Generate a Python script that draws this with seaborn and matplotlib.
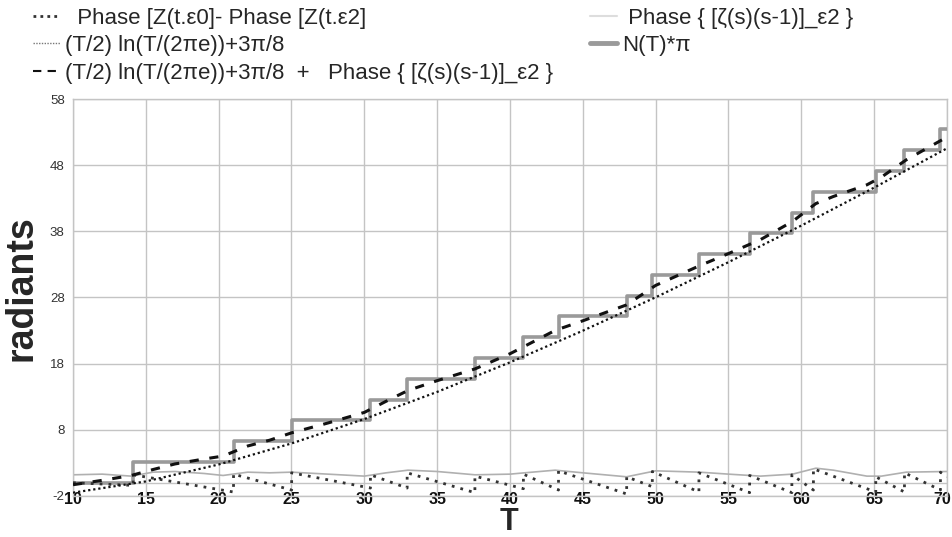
"""
Fase di Z(t) e conteggio degli zeri N(T)*pi - ricostruzione del grafico
"""

import matplotlib
matplotlib.use("Agg")
import matplotlib.pyplot as plt
import matplotlib.transforms as mtransforms
from matplotlib.lines import Line2D
import pandas as pd
import seaborn as sns

# ------------------------------------------------------------------
# Dati
# ------------------------------------------------------------------
# N(T)*pi : scalini agli zeri di zeta
step_t = [10, 14.13, 21.02, 25.01, 30.42, 32.94, 37.59, 40.92, 43.33, 48.01,
          49.77, 52.97, 56.45, 59.35, 60.83, 65.11, 67.08, 69.55, 70]
step_val = [0, 3.14, 6.28, 9.42, 12.57, 15.71, 18.85, 21.99, 25.13, 28.27,
            31.42, 34.56, 37.70, 40.84, 43.98, 47.12, 50.27, 53.41, 53.41]

# (T/2) ln(T/(2 pi e)) + 3pi/8
smooth_t = [10, 15, 20, 25, 30, 35, 40, 45, 50, 55, 60, 65, 70]
smooth_val = [-1.50, 0.20, 2.76, 5.94, 9.63, 13.73, 18.20, 22.98, 28.03,
              33.34, 38.87, 44.61, 50.55]

# Phase { [zeta(s)(s-1)]_e2 }
phase_t = [10, 12, 14, 15.5, 17, 19, 20.3, 22, 23.5, 25, 27.5, 30, 31.5, 33,
           35, 37.6, 40, 41, 43.1, 45, 48, 50, 53, 55, 57.2, 59.4, 61, 62.2,
           64.5, 65.5, 67.2, 70]
phase_val = [1.2, 1.3, 1.0, 1.6, 1.7, 1.4, 1.1, 1.6, 1.5, 1.6, 1.3, 1.0, 1.5,
             1.9, 1.7, 1.2, 1.3, 1.5, 1.9, 1.5, 0.9, 1.8, 1.6, 1.3, 1.0, 1.3,
             2.2, 1.9, 1.0, 1.0, 1.6, 1.7]

# somma: curva liscia + fase
sum_val = [-0.3, 0.36, 1.1, 2.0, 2.84, 3.59, 4.03, 5.56, 6.43, 7.54, 9.03,
           10.63, 12.32, 13.95, 15.43, 17.21, 19.5, 20.63, 23.03, 24.48, 26.88,
           29.83, 32.79, 34.64, 36.75, 39.5, 42.2, 43.27, 45.03, 46.2, 48.8,
           52.25]

# Phase [Z(t.e0)] - Phase [Z(t.e2)] : dente di sega
saw_t = [10, 14.13, 14.13, 21.02, 21.02, 25.01, 25.01, 30.42, 30.42, 32.94,
         32.94, 37.59, 37.59, 40.92, 40.92, 43.33, 43.33, 48.01, 48.01, 49.77,
         49.77, 52.97, 52.97, 56.45, 56.45, 59.35, 59.35, 60.83, 60.83, 65.11,
         65.11, 67.08, 67.08, 69.55, 69.55, 70]
saw_val = [0.0, -0.4, 1.2, -1.4, 1.3, -1.1, 1.5, -0.8, 1.2, -0.8,
           1.5, -1.5, 1.0, -0.9, 1.3, -1.1, 1.8, -1.7, 0.9, -0.6,
           1.7, -1.4, 1.5, -1.5, 1.1, -1.5, 1.2, -1.1, 2.1, -1.4,
           0.9, -1.4, 1.5, -1.1, 1.6, 0.9]

x_ticks = [10, 15, 20, 25, 30, 35, 40, 45, 50, 55, 60, 65, 70]
y_ticks = [-2, 8, 18, 28, 38, 48, 58]

labels = {
    "saw": "  Phase [Z(t.\u03b50]- Phase [Z(t.\u03b52]",
    "smooth": "(T/2) ln(T/(2\u03c0e))+3\u03c0/8",
    "sum": "(T/2) ln(T/(2\u03c0e))+3\u03c0/8  +   Phase { [\u03b6(s)(s-1)]_\u03b52 }",
    "phase": " Phase { [\u03b6(s)(s-1)]_\u03b52 }",
    "step": "N(T)*\u03c0",
}

# ------------------------------------------------------------------
# Stile
# ------------------------------------------------------------------
sns.set_style("white")
plt.rcParams["font.family"] = ["Liberation Sans", "DejaVu Sans"]

GRID = "#c4c4c4"
STEP_C = "#9a9a9a"
PHASE_C = "#b0b0b0"

fig = plt.figure(figsize=(9.53, 5.37), dpi=100)
ax = fig.add_axes([0.0766, 0.0764, 0.9171, 0.7392])

df_step = pd.DataFrame({"T": step_t, "v": step_val})
df_smooth = pd.DataFrame({"T": smooth_t, "v": smooth_val})
df_phase = pd.DataFrame({"T": phase_t, "v": phase_val})
df_sum = pd.DataFrame({"T": phase_t, "v": sum_val})
df_saw = pd.DataFrame({"T": saw_t, "v": saw_val})

# linea dell'asse x a quota 0
ax.axhline(0, color=GRID, lw=1.0, zorder=1)

sns.lineplot(data=df_step, x="T", y="v", ax=ax, color=STEP_C, lw=2.6,
             drawstyle="steps-post", estimator=None, sort=False, zorder=3)
sns.lineplot(data=df_phase, x="T", y="v", ax=ax, color=PHASE_C, lw=1.2,
             estimator=None, sort=False, zorder=2)
sns.lineplot(data=df_saw, x="T", y="v", ax=ax, color="#333333", lw=2.0,
             linestyle=(0, (1, 2.2)), estimator=None, sort=False, zorder=4)
sns.lineplot(data=df_smooth, x="T", y="v", ax=ax, color="#111111", lw=1.6,
             linestyle=(0, (1, 1.3)), estimator=None, sort=False, zorder=5)
sns.lineplot(data=df_sum, x="T", y="v", ax=ax, color="#111111", lw=2.2,
             linestyle=(0, (3, 3.5)), estimator=None, sort=False, zorder=6)

ax.set_xlim(10, 70)
ax.set_ylim(-2, 58)
ax.set_xticks(x_ticks)
ax.set_yticks(y_ticks)
ax.set_xticklabels([str(t) for t in x_ticks], fontsize=11.5, fontweight="bold",
                   color="#111111")
ax.set_yticklabels([str(t) for t in y_ticks], fontsize=9.5, color="#333333")
ax.tick_params(axis="x", length=0, pad=-3)
ax.tick_params(axis="y", length=0, pad=6)
# l'ultima etichetta "70" resta dentro la figura
last = ax.get_xticklabels()[-1]
last.set_transform(last.get_transform()
                   + mtransforms.ScaledTranslation(-0.05, 0, fig.dpi_scale_trans))
ax.grid(True, color=GRID, lw=1.0)
for s in ax.spines.values():
    s.set_color(GRID)
    s.set_linewidth(1.0)

ax.set_xlabel("T", fontsize=22, fontweight="bold")
ax.xaxis.set_label_coords(0.499, -0.028)
ax.set_ylabel("radiants", fontsize=27, fontweight="bold")
ax.yaxis.set_label_coords(-0.038, 0.524)

# ------------------------------------------------------------------
# Legenda in alto
# ------------------------------------------------------------------
h_saw = Line2D([], [], color="#333333", lw=2.0, linestyle=(0, (1, 1.5)))
h_smooth = Line2D([], [], color="#777777", lw=1.0, linestyle=(0, (1, 1)))
h_sum = Line2D([], [], color="#111111", lw=1.5, linestyle=(0, (4, 3)))
h_phase = Line2D([], [], color="#dddddd", lw=1.5)
h_step = Line2D([], [], color=STEP_C, lw=3.5)

leg_kw = dict(frameon=False, fontsize=16, handlelength=1.2, handletextpad=0.25,
              labelspacing=0.3, borderpad=0, borderaxespad=0)
fig.legend([h_saw, h_smooth, h_sum],
           [labels["saw"], labels["smooth"], labels["sum"]],
           loc="upper left", bbox_to_anchor=(0.0346, 0.986), **leg_kw)
fig.legend([h_phase, h_step], [labels["phase"], labels["step"]],
           loc="upper left", bbox_to_anchor=(0.619, 0.986), **leg_kw)

plt.savefig("out.png", dpi=100)
plt.close()
